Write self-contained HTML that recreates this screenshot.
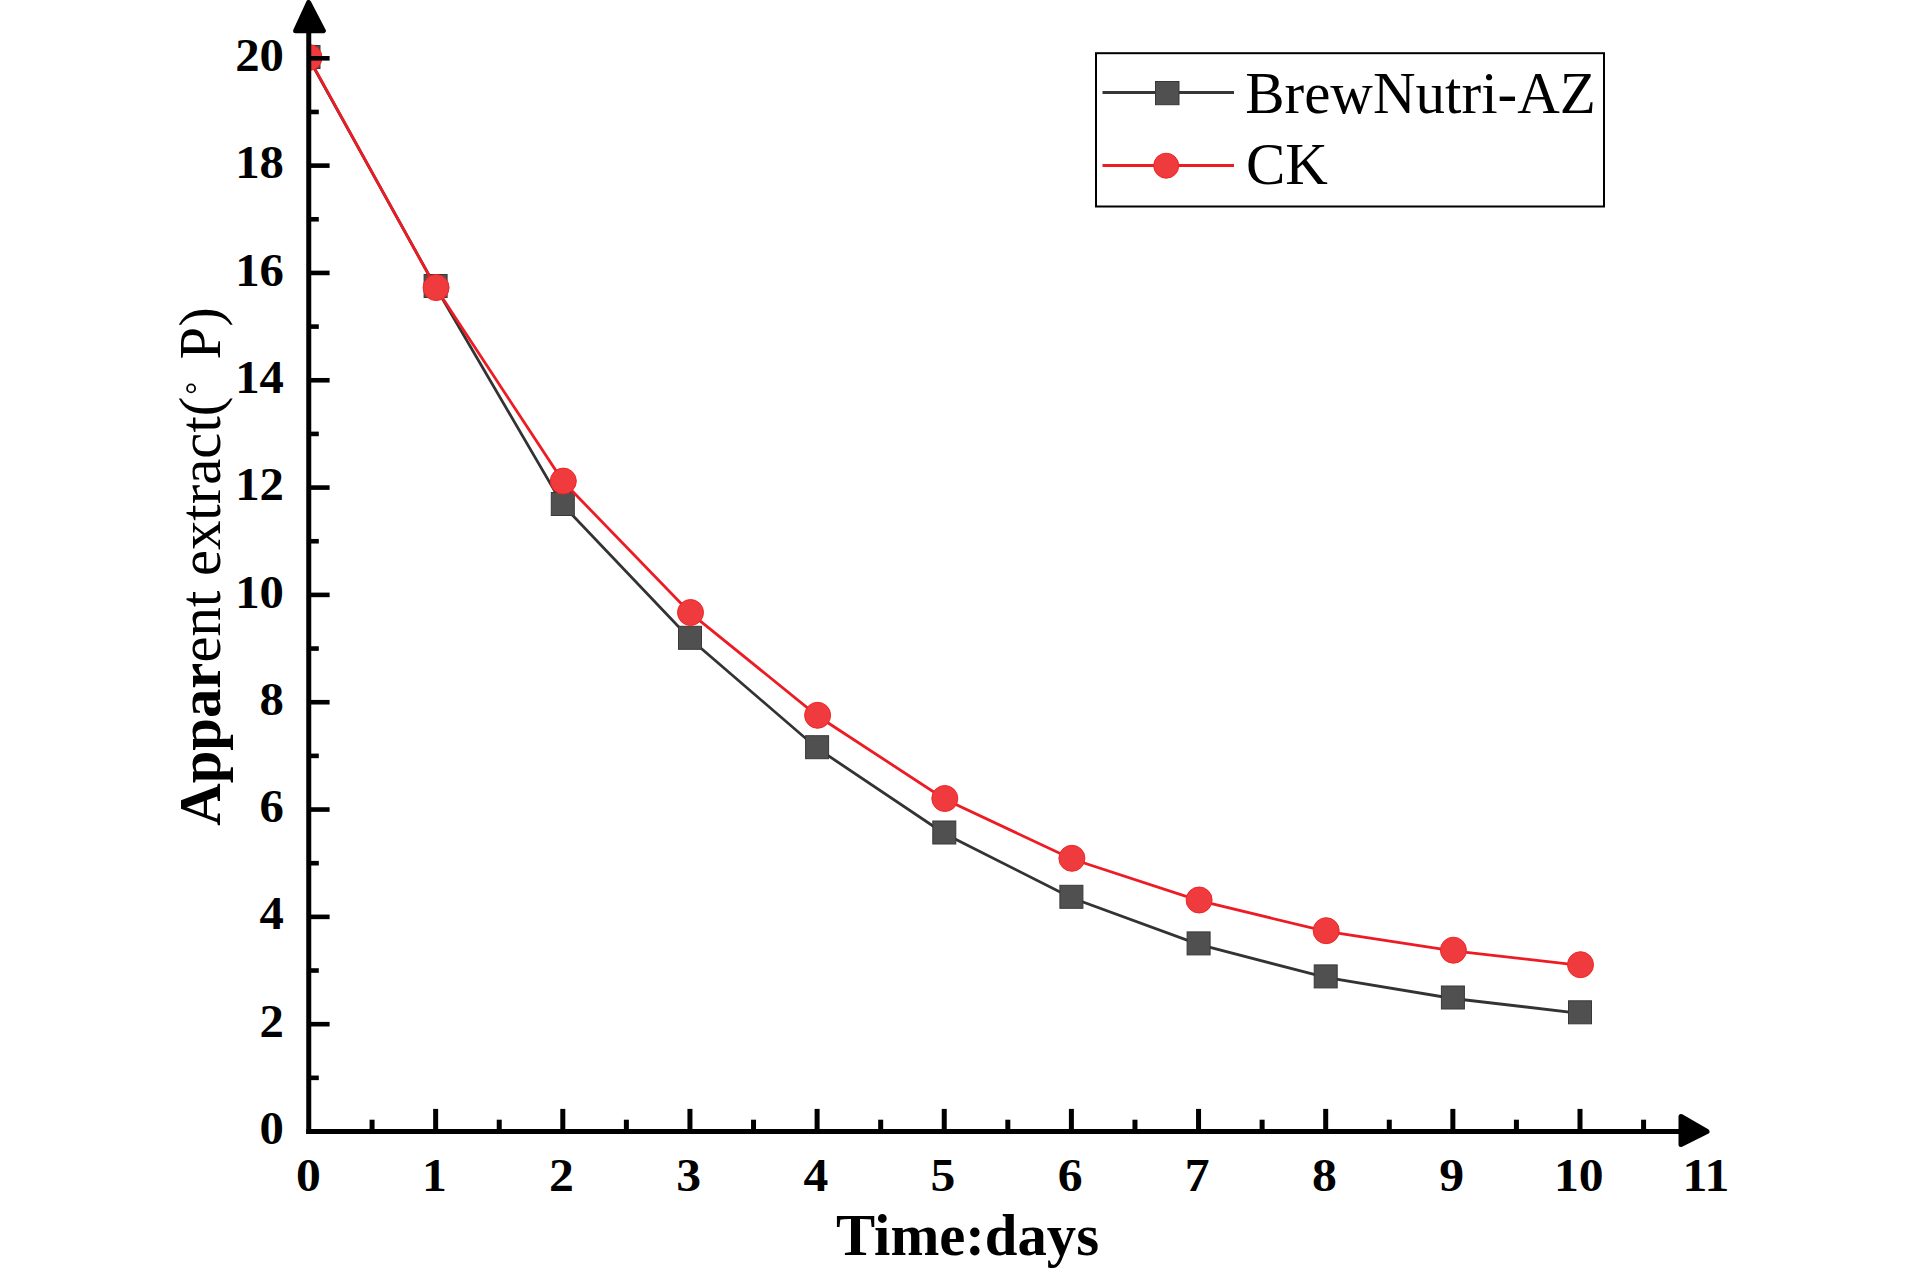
<!DOCTYPE html><html><head><meta charset="utf-8"><style>html,body{margin:0;padding:0;background:#fff;}svg{display:block;}text{font-family:"Liberation Serif",serif;}</style></head><body>
<svg width="1920" height="1280" viewBox="0 0 1920 1280">
<rect width="1920" height="1280" fill="#fff"/>
<defs><clipPath id="pc"><rect x="309" y="0" width="1500" height="1129"/></clipPath></defs>
<g clip-path="url(#pc)">
<polyline points="308.5,58.0 435.6,287.0 562.8,505.0 690.0,638.8 817.1,748.2 944.2,833.5 1071.4,897.8 1198.6,944.4 1325.7,977.4 1452.9,998.5 1580.0,1013.3" fill="none" stroke="#333" stroke-width="2.8" stroke-linejoin="miter"/>
<rect x="297.0" y="45.5" width="23" height="23" fill="#505050" stroke="#383838" stroke-width="1"/>
<rect x="424.1" y="274.5" width="23" height="23" fill="#505050" stroke="#383838" stroke-width="1"/>
<rect x="551.3" y="492.5" width="23" height="23" fill="#505050" stroke="#383838" stroke-width="1"/>
<rect x="678.5" y="626.3" width="23" height="23" fill="#505050" stroke="#383838" stroke-width="1"/>
<rect x="805.6" y="735.7" width="23" height="23" fill="#505050" stroke="#383838" stroke-width="1"/>
<rect x="932.8" y="821.0" width="23" height="23" fill="#505050" stroke="#383838" stroke-width="1"/>
<rect x="1059.9" y="885.3" width="23" height="23" fill="#505050" stroke="#383838" stroke-width="1"/>
<rect x="1187.1" y="931.9" width="23" height="23" fill="#505050" stroke="#383838" stroke-width="1"/>
<rect x="1314.2" y="964.9" width="23" height="23" fill="#505050" stroke="#383838" stroke-width="1"/>
<rect x="1441.4" y="986.0" width="23" height="23" fill="#505050" stroke="#383838" stroke-width="1"/>
<rect x="1568.5" y="1000.8" width="23" height="23" fill="#505050" stroke="#383838" stroke-width="1"/>
<polyline points="309.0,58.2 436.1,288.3 563.3,481.8 690.5,613.2 817.6,716.0 944.8,799.2 1071.9,859.0 1199.1,900.7 1326.2,931.4 1453.4,950.9 1580.5,965.4" fill="none" stroke="#ed1c24" stroke-width="2.8"/>
<circle cx="309.0" cy="57.5" r="13" fill="#ef3b3e" stroke="#f02424" stroke-width="1"/>
<circle cx="436.1" cy="287.6" r="13" fill="#ef3b3e" stroke="#f02424" stroke-width="1"/>
<circle cx="563.3" cy="481.1" r="13" fill="#ef3b3e" stroke="#f02424" stroke-width="1"/>
<circle cx="690.5" cy="612.5" r="13" fill="#ef3b3e" stroke="#f02424" stroke-width="1"/>
<circle cx="817.6" cy="715.3" r="13" fill="#ef3b3e" stroke="#f02424" stroke-width="1"/>
<circle cx="944.8" cy="798.5" r="13" fill="#ef3b3e" stroke="#f02424" stroke-width="1"/>
<circle cx="1071.9" cy="858.3" r="13" fill="#ef3b3e" stroke="#f02424" stroke-width="1"/>
<circle cx="1199.1" cy="900.0" r="13" fill="#ef3b3e" stroke="#f02424" stroke-width="1"/>
<circle cx="1326.2" cy="930.7" r="13" fill="#ef3b3e" stroke="#f02424" stroke-width="1"/>
<circle cx="1453.4" cy="950.2" r="13" fill="#ef3b3e" stroke="#f02424" stroke-width="1"/>
<circle cx="1580.5" cy="964.7" r="13" fill="#ef3b3e" stroke="#f02424" stroke-width="1"/>
</g>
<rect x="306.25" y="30" width="5" height="1104" fill="#000"/>
<rect x="306.25" y="1129" width="1380" height="5" fill="#000"/>
<path d="M308.6,2.5 L323.4,30.8 L295.6,30.8 Z" fill="#000" stroke="#000" stroke-width="5" stroke-linejoin="round"/>
<path d="M1707,1131.5 L1681,1116.5 L1681,1144.5 Z" fill="#000" stroke="#000" stroke-width="5" stroke-linejoin="round"/>
<rect x="308" y="1075.54" width="10.80" height="4.6" fill="#000"/>
<rect x="308" y="1021.88" width="21.60" height="4.6" fill="#000"/>
<rect x="308" y="968.22" width="10.80" height="4.6" fill="#000"/>
<rect x="308" y="914.56" width="21.60" height="4.6" fill="#000"/>
<rect x="308" y="860.90" width="10.80" height="4.6" fill="#000"/>
<rect x="308" y="807.24" width="21.60" height="4.6" fill="#000"/>
<rect x="308" y="753.58" width="10.80" height="4.6" fill="#000"/>
<rect x="308" y="699.92" width="21.60" height="4.6" fill="#000"/>
<rect x="308" y="646.26" width="10.80" height="4.6" fill="#000"/>
<rect x="308" y="592.60" width="21.60" height="4.6" fill="#000"/>
<rect x="308" y="538.94" width="10.80" height="4.6" fill="#000"/>
<rect x="308" y="485.28" width="21.60" height="4.6" fill="#000"/>
<rect x="308" y="431.62" width="10.80" height="4.6" fill="#000"/>
<rect x="308" y="377.96" width="21.60" height="4.6" fill="#000"/>
<rect x="308" y="324.30" width="10.80" height="4.6" fill="#000"/>
<rect x="308" y="270.64" width="21.60" height="4.6" fill="#000"/>
<rect x="308" y="216.98" width="10.80" height="4.6" fill="#000"/>
<rect x="308" y="163.32" width="21.60" height="4.6" fill="#000"/>
<rect x="308" y="109.66" width="10.80" height="4.6" fill="#000"/>
<rect x="308" y="56.00" width="21.60" height="4.6" fill="#000"/>
<rect x="369.57" y="1119.70" width="5" height="11.30" fill="#000"/>
<rect x="433.15" y="1108.90" width="5" height="22.10" fill="#000"/>
<rect x="496.73" y="1119.70" width="5" height="11.30" fill="#000"/>
<rect x="560.30" y="1108.90" width="5" height="22.10" fill="#000"/>
<rect x="623.88" y="1119.70" width="5" height="11.30" fill="#000"/>
<rect x="687.45" y="1108.90" width="5" height="22.10" fill="#000"/>
<rect x="751.03" y="1119.70" width="5" height="11.30" fill="#000"/>
<rect x="814.60" y="1108.90" width="5" height="22.10" fill="#000"/>
<rect x="878.18" y="1119.70" width="5" height="11.30" fill="#000"/>
<rect x="941.75" y="1108.90" width="5" height="22.10" fill="#000"/>
<rect x="1005.33" y="1119.70" width="5" height="11.30" fill="#000"/>
<rect x="1068.90" y="1108.90" width="5" height="22.10" fill="#000"/>
<rect x="1132.47" y="1119.70" width="5" height="11.30" fill="#000"/>
<rect x="1196.05" y="1108.90" width="5" height="22.10" fill="#000"/>
<rect x="1259.62" y="1119.70" width="5" height="11.30" fill="#000"/>
<rect x="1323.20" y="1108.90" width="5" height="22.10" fill="#000"/>
<rect x="1386.78" y="1119.70" width="5" height="11.30" fill="#000"/>
<rect x="1450.35" y="1108.90" width="5" height="22.10" fill="#000"/>
<rect x="1513.92" y="1119.70" width="5" height="11.30" fill="#000"/>
<rect x="1577.50" y="1108.90" width="5" height="22.10" fill="#000"/>
<rect x="1641.08" y="1119.70" width="5" height="11.30" fill="#000"/>
<text transform="translate(283.9,1144.10) scale(1.06,1)" font-size="46" font-weight="bold" text-anchor="end">0</text>
<text transform="translate(283.9,1036.78) scale(1.06,1)" font-size="46" font-weight="bold" text-anchor="end">2</text>
<text transform="translate(283.9,929.46) scale(1.06,1)" font-size="46" font-weight="bold" text-anchor="end">4</text>
<text transform="translate(283.9,822.14) scale(1.06,1)" font-size="46" font-weight="bold" text-anchor="end">6</text>
<text transform="translate(283.9,714.82) scale(1.06,1)" font-size="46" font-weight="bold" text-anchor="end">8</text>
<text transform="translate(283.9,607.50) scale(1.06,1)" font-size="46" font-weight="bold" text-anchor="end">10</text>
<text transform="translate(283.9,500.18) scale(1.06,1)" font-size="46" font-weight="bold" text-anchor="end">12</text>
<text transform="translate(283.9,392.86) scale(1.06,1)" font-size="46" font-weight="bold" text-anchor="end">14</text>
<text transform="translate(283.9,285.54) scale(1.06,1)" font-size="46" font-weight="bold" text-anchor="end">16</text>
<text transform="translate(283.9,178.22) scale(1.06,1)" font-size="46" font-weight="bold" text-anchor="end">18</text>
<text transform="translate(283.9,70.90) scale(1.06,1)" font-size="46" font-weight="bold" text-anchor="end">20</text>
<text transform="translate(308.50,1190.6) scale(1.08,1)" font-size="46" font-weight="bold" text-anchor="middle">0</text>
<text transform="translate(434.35,1190.6) scale(1.08,1)" font-size="46" font-weight="bold" text-anchor="middle">1</text>
<text transform="translate(561.50,1190.6) scale(1.08,1)" font-size="46" font-weight="bold" text-anchor="middle">2</text>
<text transform="translate(688.65,1190.6) scale(1.08,1)" font-size="46" font-weight="bold" text-anchor="middle">3</text>
<text transform="translate(815.80,1190.6) scale(1.08,1)" font-size="46" font-weight="bold" text-anchor="middle">4</text>
<text transform="translate(942.95,1190.6) scale(1.08,1)" font-size="46" font-weight="bold" text-anchor="middle">5</text>
<text transform="translate(1070.10,1190.6) scale(1.08,1)" font-size="46" font-weight="bold" text-anchor="middle">6</text>
<text transform="translate(1197.25,1190.6) scale(1.08,1)" font-size="46" font-weight="bold" text-anchor="middle">7</text>
<text transform="translate(1324.40,1190.6) scale(1.08,1)" font-size="46" font-weight="bold" text-anchor="middle">8</text>
<text transform="translate(1451.55,1190.6) scale(1.08,1)" font-size="46" font-weight="bold" text-anchor="middle">9</text>
<text transform="translate(1578.70,1190.6) scale(1.08,1)" font-size="46" font-weight="bold" text-anchor="middle">10</text>
<text transform="translate(1705.85,1190.6) scale(1.08,1)" font-size="46" font-weight="bold" text-anchor="middle">11</text>
<text x="836" y="1255.3" font-size="58.7" font-weight="bold">Time:days</text>
<g transform="translate(220,825.8) rotate(-90)"><text x="0" y="0" font-size="58.75"><tspan font-weight="bold">Appar</tspan>ent extract(<tspan dx="37.3">P)</tspan></text></g>
<circle cx="191.1" cy="388.4" r="4" fill="none" stroke="#000" stroke-width="1.8"/>
<rect x="1096" y="53.2" width="508" height="153.3" fill="none" stroke="#000" stroke-width="2"/>
<line x1="1102.5" y1="92.5" x2="1234" y2="92.5" stroke="#363636" stroke-width="3"/>
<rect x="1155.5" y="81.5" width="23.5" height="23.2" fill="#505050" stroke="#383838" stroke-width="1"/>
<line x1="1102.5" y1="165.5" x2="1234" y2="165.5" stroke="#ed1c24" stroke-width="3"/>
<circle cx="1166.2" cy="165.7" r="12.5" fill="#ef3b3e" stroke="#f02424" stroke-width="1"/>
<text x="1245.2" y="112.6" font-size="59">BrewNutri-AZ</text>
<text x="1246" y="184" font-size="59">CK</text>
</svg></body></html>
